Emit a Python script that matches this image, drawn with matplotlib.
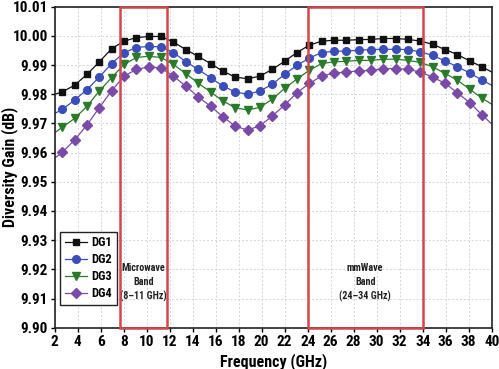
import matplotlib
matplotlib.use("Agg")
import matplotlib.pyplot as plt
from matplotlib import font_manager as fm
from matplotlib.patches import Rectangle

# ---------------- data ----------------
freq = [2.0, 2.66, 3.73, 4.81, 5.88, 6.95, 8.03, 9.10, 10.18, 11.25, 12.32, 13.40, 14.47,
        15.55, 16.62, 17.69, 18.77, 19.84, 20.91, 21.99, 23.06, 24.14, 25.21, 26.28,
        27.36, 28.43, 29.50, 30.58, 31.65, 32.73, 33.80, 34.87, 35.95, 37.02, 38.09,
        39.17, 40.0]

dg1 = [9.9800, 9.9808, 9.9831, 9.9868, 9.9911, 9.9956, 9.9982, 9.9994, 9.9998, 9.9998,
       9.9979, 9.9953, 9.9930, 9.9905, 9.9879, 9.9859, 9.9853, 9.9862, 9.9885, 9.9913,
       9.9943, 9.9968, 9.9982, 9.9985, 9.9985, 9.9987, 9.9988, 9.9991, 9.9991, 9.9988,
       9.9982, 9.9971, 9.9953, 9.9936, 9.9914, 9.9894, 9.9876]
dg2 = [9.9734, 9.9748, 9.9780, 9.9816, 9.9859, 9.9905, 9.9943, 9.9960, 9.9964, 9.9962,
       9.9943, 9.9912, 9.9885, 9.9857, 9.9828, 9.9808, 9.9800, 9.9811, 9.9834, 9.9868,
       9.9899, 9.9924, 9.9943, 9.9947, 9.9948, 9.9951, 9.9953, 9.9954, 9.9954, 9.9953,
       9.9945, 9.9933, 9.9914, 9.9894, 9.9873, 9.9848, 9.9831]
dg3 = [9.9668, 9.9687, 9.9717, 9.9759, 9.9811, 9.9857, 9.9902, 9.9926, 9.9930, 9.9926,
       9.9902, 9.9871, 9.9838, 9.9808, 9.9777, 9.9754, 9.9746, 9.9755, 9.9783, 9.9820,
       9.9852, 9.9882, 9.9905, 9.9911, 9.9913, 9.9916, 9.9916, 9.9920, 9.9920, 9.9916,
       9.9909, 9.9894, 9.9871, 9.9848, 9.9817, 9.9786, 9.9766]
dg4 = [9.9581, 9.9601, 9.9643, 9.9695, 9.9754, 9.9812, 9.9862, 9.9885, 9.9894, 9.9890,
       9.9862, 9.9828, 9.9791, 9.9759, 9.9723, 9.9691, 9.9677, 9.9692, 9.9725, 9.9763,
       9.9805, 9.9837, 9.9862, 9.9873, 9.9876, 9.9880, 9.9882, 9.9888, 9.9888, 9.9885,
       9.9876, 9.9859, 9.9837, 9.9805, 9.9771, 9.9729, 9.9698]

series_names = ["DG1", "DG2", "DG3", "DG4"]
x_ticks = list(range(2, 41, 2))
y_ticks = [9.90, 9.91, 9.92, 9.93, 9.94, 9.95, 9.96, 9.97, 9.98, 9.99, 10.00, 10.01]

bands = [(7.7, 11.75, "Microwave\nBand\n(8\u201311 GHz)"),
         (24.0, 34.0, "mmWave\nBand\n(24\u201334 GHz)")]

# ---------------- fonts ----------------
def pick(fams):
    for f in fams:
        try:
            fm.findfont(fm.FontProperties(family=f), fallback_to_default=False)
            return f
        except Exception:
            continue
    return "DejaVu Sans"

narrow = pick(["Liberation Sans Narrow", "Arial Narrow", "Roboto Condensed", "Liberation Sans"])
plt.rcParams['font.family'] = [narrow, 'DejaVu Sans']
is_narrow = narrow != "Liberation Sans"
fs_tick = 11 if is_narrow else 9.5
fs_lab = 11.5 if is_narrow else 10.5

# ---------------- figure ----------------
fig = plt.figure(figsize=(4.99, 3.69), dpi=100)
ax = fig.add_axes([54.7 / 499, 1 - 327.7 / 369, 437 / 499, 321 / 369])

colors = ["#111111", "#3b4db8", "#2b7a2b", "#7a4aa8"]
markers = ["s", "o", "v", "D"]
msizes = [5, 5.5, 5.5, 5]
for name, ys, c, m, ms in zip(series_names, [dg1, dg2, dg3, dg4], colors, markers, msizes):
    ax.plot(freq, ys, color=c, lw=0.9, marker=m, ms=ms, mfc=c, mec=c,
            markevery=slice(1, len(freq) - 1), label=name)

for x0, x1, txt in bands:
    ax.add_patch(Rectangle((x0, 9.90), x1 - x0, 0.11, fill=False,
                           edgecolor="#d0474c", lw=1.8, zorder=5, clip_on=False))
    ax.text((x0 + x1) / 2, 9.9155, txt, ha="center", va="center",
            fontsize=7.3 if is_narrow else 6.5, fontweight="bold", color="#222222",
            linespacing=1.45)

ax.set_xlim(2, 40)
ax.set_ylim(9.90, 10.01)
ax.set_xticks(x_ticks)
ax.set_yticks(y_ticks)
ax.set_yticklabels([f"{v:.2f}" for v in y_ticks])
ax.grid(True, color="#d4d4d4", ls=(0, (2, 2)), lw=0.7)
ax.set_axisbelow(True)
ax.tick_params(direction="out", length=3, width=1, labelsize=fs_tick, pad=2)
for lab in ax.get_xticklabels() + ax.get_yticklabels():
    lab.set_fontweight("bold")
for s in ax.spines.values():
    s.set_linewidth(1.2)
    s.set_color("#222222")

ax.set_xlabel("Frequency (GHz)", fontsize=fs_lab, fontweight="bold", labelpad=3)
ax.set_ylabel("Diversity Gain (dB)", fontsize=fs_lab, fontweight="bold")
ax.yaxis.set_label_coords(-0.084, 0.5)

leg = ax.legend(loc="upper left", bbox_to_anchor=(0.013, 0.298), frameon=True,
                fancybox=False, edgecolor="#222222", framealpha=1,
                prop={"weight": "bold", "size": 9 if is_narrow else 7.5},
                handlelength=1.8, handletextpad=0.35, labelspacing=0.32,
                borderpad=0.35, borderaxespad=0, handleheight=0.7)
leg.get_frame().set_linewidth(1.0)

fig.savefig("out.png", dpi=100)
